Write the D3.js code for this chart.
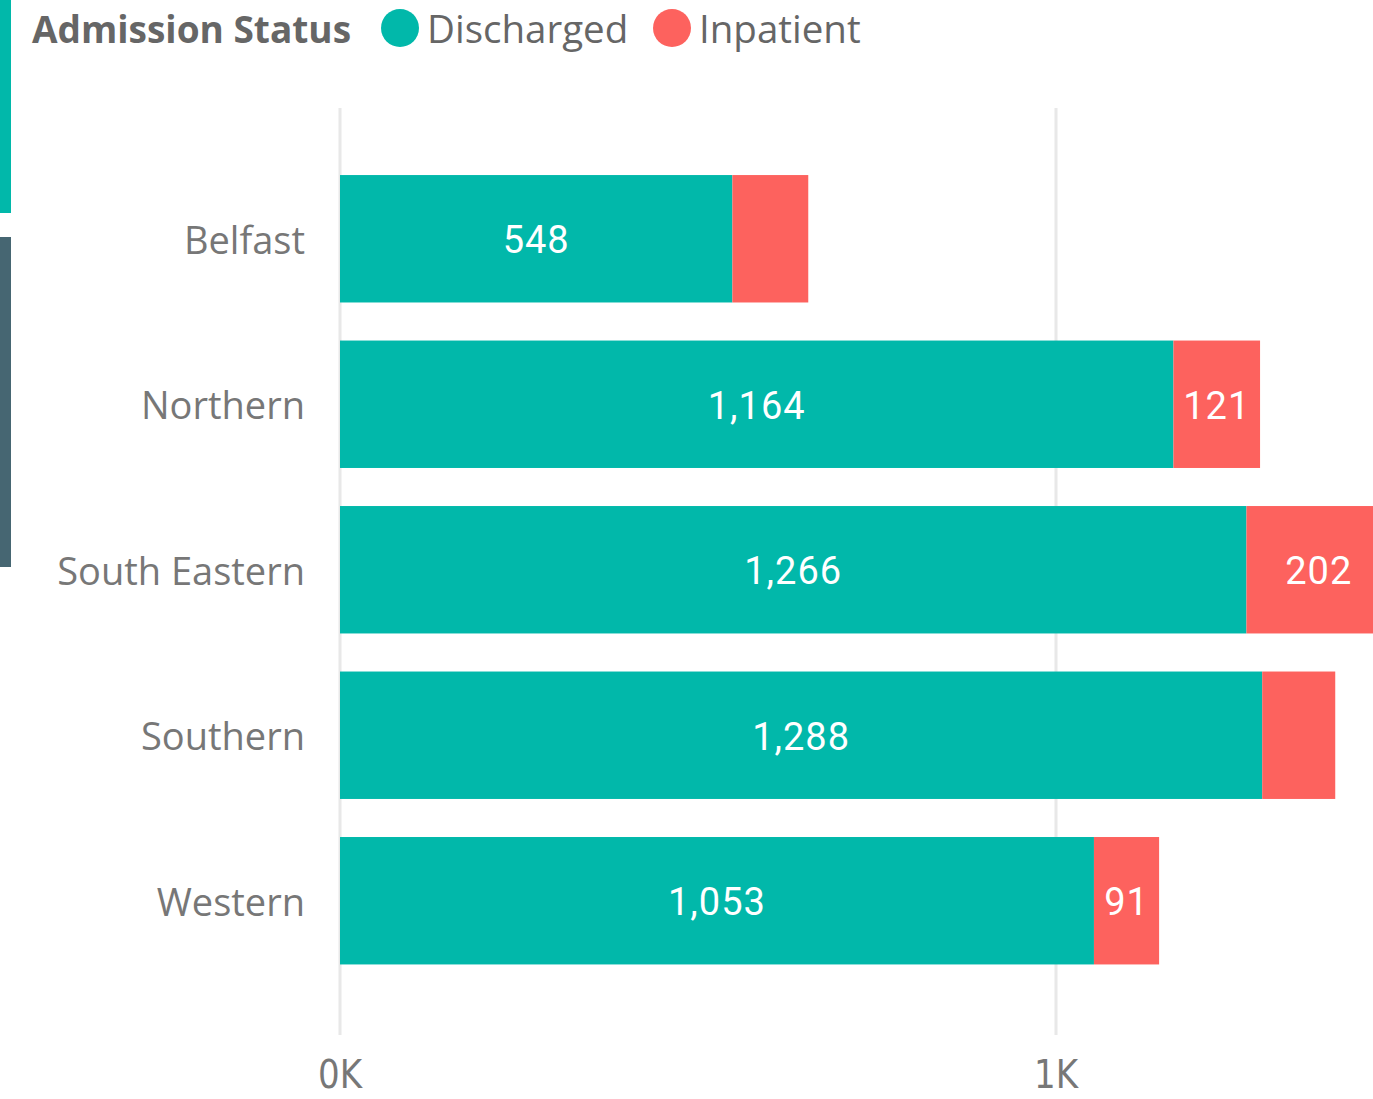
<!DOCTYPE html>
<html>
<head>
<meta charset="utf-8">
<script src="https://d3js.org/d3.v7.min.js"></script>
<style>
  body { margin: 0; background: #fff; }
  svg { display: block; }
</style>
</head>
<body>
<svg></svg>
<script>
var regions = ['Belfast', 'Northern', 'South Eastern', 'Southern', 'Western'];
var discharged = [548, 1164, 1266, 1288, 1053];
var inpatient = [106, 121, 202, 102, 91];
var statuses = ['Discharged', 'Inpatient'];
var xTicks = [0, 1000];

var W = 1373, H = 1099;
var teal = '#01B8AA', red = '#FD625E';

var svg = d3.select('svg').attr('width', W).attr('height', H);

// side accents
svg.append('rect').attr('x', 0).attr('y', 0).attr('width', 11).attr('height', 213).attr('fill', teal);
svg.append('rect').attr('x', 0).attr('y', 237).attr('width', 11).attr('height', 330).attr('fill', '#466672');

var x = d3.scaleLinear().domain([0, 1000]).range([340, 1056]);
var y = d3.scaleBand().domain(regions).range([158.5, 981]).paddingInner(0.23).paddingOuter(0.1);

var color = d3.scaleOrdinal().domain(statuses).range([teal, red]);

// gridlines
svg.selectAll('.grid')
  .data(xTicks)
  .enter().append('line')
  .attr('class', 'grid')
  .attr('x1', function(d) { return x(d); })
  .attr('x2', function(d) { return x(d); })
  .attr('y1', 108).attr('y2', 1035)
  .attr('stroke', '#e8e8e8').attr('stroke-width', 3);

// tick labels (narrow, condensed look)
svg.selectAll('.tick-label')
  .data(xTicks)
  .enter().append('text')
  .attr('x', function(d) { return x(d); })
  .attr('y', 1088)
  .attr('text-anchor', 'middle')
  .attr('fill', '#777')
  .style('font-family', '"DejaVu Sans Condensed", "Roboto", sans-serif')
  .style('font-size', '39px')
  .attr('textLength', 44)
  .attr('lengthAdjust', 'spacingAndGlyphs')
  .text(function(d) { return d3.format('d')(d / 1000) + 'K'; });

// stacked rows
var rows = regions.map(function(r, i) {
  return [
    { region: r, status: 'Discharged', x0: 0, x1: discharged[i], v: discharged[i] },
    { region: r, status: 'Inpatient', x0: discharged[i], x1: discharged[i] + inpatient[i], v: inpatient[i] }
  ];
});
var segs = [].concat.apply([], rows);

var chart = svg.append('g');

chart.selectAll('.seg')
  .data(segs)
  .enter().append('rect')
  .attr('class', 'seg')
  .attr('x', function(d) { return x(d.x0); })
  .attr('y', function(d) { return y(d.region); })
  .attr('width', function(d) { return x(d.x1) - x(d.x0); })
  .attr('height', y.bandwidth())
  .attr('fill', function(d) { return color(d.status); });

chart.selectAll('.val')
  .data(segs)
  .enter().append('text')
  .attr('class', 'val')
  .attr('x', function(d) { return (x(d.x0) + x(d.x1)) / 2; })
  .attr('y', function(d) { return y(d.region) + y.bandwidth() / 2; })
  .attr('dy', '0.38em')
  .attr('text-anchor', 'middle')
  .attr('fill', '#fff')
  .style('font-family', 'Roboto, sans-serif')
  .style('font-size', '38px')
  .style('letter-spacing', '1px')
  .text(function(d) { return d3.format(',')(d.v); })
  .each(function(d) {
    var w = this.getComputedTextLength();
    if (w + 16 > x(d.x1) - x(d.x0)) d3.select(this).remove();
  });

// category labels
svg.selectAll('.cat')
  .data(regions)
  .enter().append('text')
  .attr('x', 305)
  .attr('y', function(d) { return y(d) + y.bandwidth() / 2; })
  .attr('dy', '0.4em')
  .attr('text-anchor', 'end')
  .attr('fill', '#777')
  .style('font-family', '"Open Sans", sans-serif')
  .style('font-size', '38px')
  .text(function(d) { return d; });

// legend
var legend = svg.append('g').style('font-family', '"Open Sans", sans-serif');
legend.append('text')
  .attr('x', 32).attr('y', 43)
  .attr('fill', '#666')
  .style('font-size', '37px')
  .style('font-weight', 'bold')
  .text('Admission Status');

var legendPos = [400, 672];
statuses.forEach(function(s, i) {
  legend.append('circle')
    .attr('cx', legendPos[i]).attr('cy', 28).attr('r', 19)
    .attr('fill', color(s));
  legend.append('text')
    .attr('x', legendPos[i] + 27).attr('y', 43)
    .attr('fill', '#666')
    .style('font-size', '38.5px')
    .text(s);
});
</script>
</body>
</html>
